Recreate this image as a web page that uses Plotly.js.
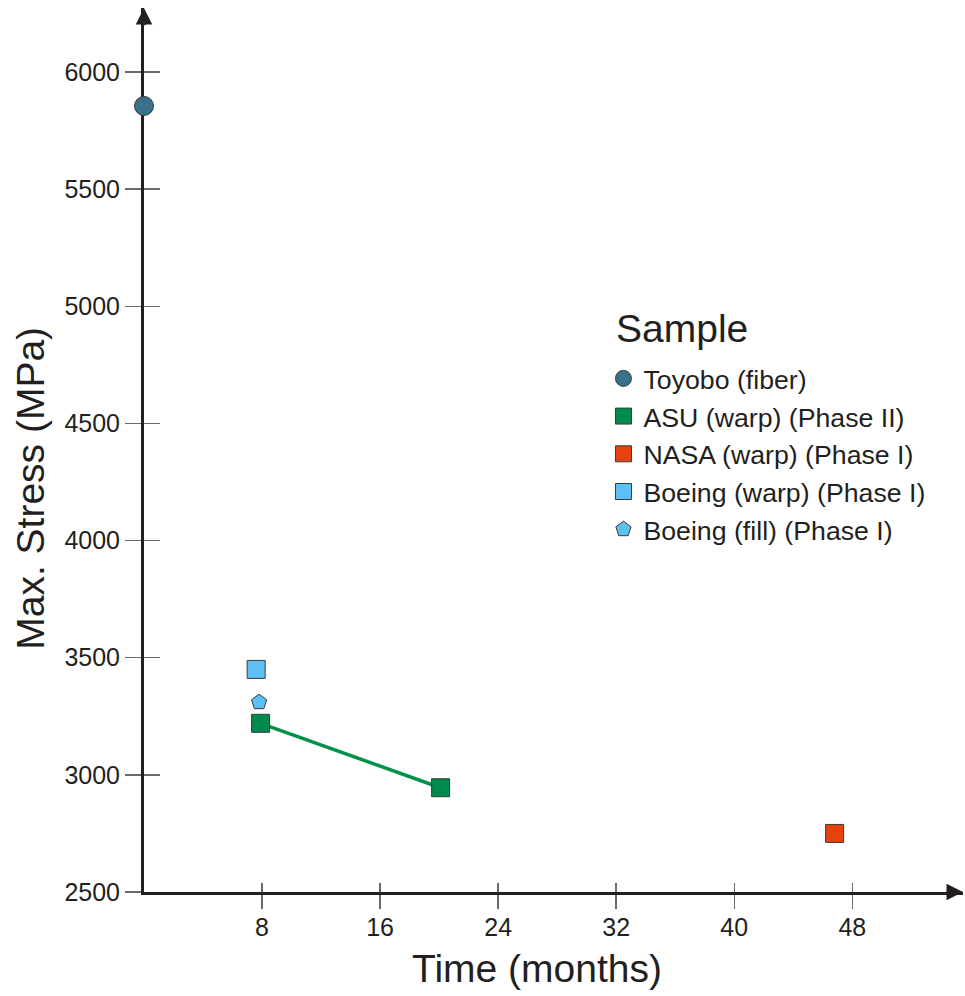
<!DOCTYPE html>
<html>
<head>
<meta charset="utf-8">
<script src="https://cdn.plot.ly/plotly-3.0.1.min.js"></script>
<style>html,body{margin:0;padding:0;background:#fff;}#chart{width:965px;height:996px;}</style>
</head>
<body>
<div id="chart"></div>
<script>
// ---- data ----
const toyoboX = [0];
const toyoboY = [5855];
const asuX = [7.9, 20.1];
const asuY = [3220, 2945];
const nasaX = [46.8];
const nasaY = [2750];
const boeingWarpX = [7.6];
const boeingWarpY = [3450];
const boeingFillX = [7.8];
const boeingFillY = [3310];

const xTicks = [8, 16, 24, 32, 40, 48];
const yTicks = [2500, 3000, 3500, 4000, 4500, 5000, 5500, 6000];
const xRange = [0, 55.5];
const yRange = [2500, 6273];

const FONT = 'Liberation Sans, Arial, sans-serif';
const INK = '#231f20';
const TICKC = '#6a6a6a';
const EDGE = '#3a3a3a';

const traces = [
  {x: asuX, y: asuY, mode: 'lines', line: {color: '#00924a', width: 3.5},
   showlegend: false, hoverinfo: 'skip', cliponaxis: false},
  {x: toyoboX, y: toyoboY, mode: 'markers', name: 'Toyobo (fiber)', legendgroup: 'a',
   marker: {symbol: 'circle', size: 19, color: '#37718b', line: {color: EDGE, width: 1}}, cliponaxis: false},
  {x: asuX, y: asuY, mode: 'markers', name: 'ASU (warp) (Phase II)', legendgroup: 'b',
   marker: {symbol: 'square', size: 18, color: '#008a4b', line: {color: EDGE, width: 1}}, cliponaxis: false},
  {x: nasaX, y: nasaY, mode: 'markers', name: 'NASA (warp) (Phase I)', legendgroup: 'c',
   marker: {symbol: 'square', size: 18, color: '#e5420d', line: {color: EDGE, width: 1}}, cliponaxis: false},
  {x: boeingWarpX, y: boeingWarpY, mode: 'markers', name: 'Boeing (warp) (Phase I)', legendgroup: 'd',
   marker: {symbol: 'square', size: 18, color: '#5dc0f2', line: {color: EDGE, width: 1}}, cliponaxis: false},
  {x: boeingFillX, y: boeingFillY, mode: 'markers', name: 'Boeing (fill) (Phase I)', legendgroup: 'e',
   marker: {symbol: 'pentagon', size: 16, color: '#5dc0f2', line: {color: EDGE, width: 1}}, cliponaxis: false},
  {x: [], y: [], xaxis: 'x2', yaxis: 'y2', showlegend: false, hoverinfo: 'skip'}
];

const layout = {
  width: 965, height: 996,
  margin: {l: 144, r: 2, t: 8, b: 104},
  paper_bgcolor: '#ffffff', plot_bgcolor: 'rgba(0,0,0,0)',
  font: {family: FONT, color: INK},
  showlegend: true,
  xaxis: {
    range: xRange, tickvals: xTicks, ticktext: xTicks.map(String),
    ticks: 'outside', ticklen: 14, tickwidth: 1.5, tickcolor: TICKC,
    tickfont: {size: 25, color: INK}, showgrid: false, zeroline: false,
    showline: true, linewidth: 3, linecolor: INK, layer: 'below traces',
    ticklabelstandoff: -3,
    fixedrange: true
  },
  yaxis: {
    range: yRange, tickvals: yTicks, ticktext: yTicks.map(String),
    ticks: 'outside', ticklen: 16, tickwidth: 1.5, tickcolor: TICKC,
    tickfont: {size: 25, color: INK}, showgrid: false, zeroline: false,
    showline: true, linewidth: 3, linecolor: INK, layer: 'below traces',
    ticklabelstandoff: 0,
    fixedrange: true
  },
  xaxis2: {
    overlaying: 'x', matches: 'x', range: xRange, tickvals: xTicks,
    ticks: 'inside', ticklen: 9, tickwidth: 1.5, tickcolor: TICKC,
    showticklabels: false, showgrid: false, zeroline: false, showline: false,
    layer: 'below traces'
  },
  yaxis2: {
    overlaying: 'y', matches: 'y', range: yRange, tickvals: yTicks,
    ticks: 'inside', ticklen: 16, tickwidth: 1.5, tickcolor: TICKC,
    showticklabels: false, showgrid: false, zeroline: false, showline: false,
    layer: 'below traces'
  },
  legend: {
    x: 0.561, y: 0.608, xanchor: 'left', yanchor: 'top',
    bgcolor: 'rgba(0,0,0,0)', borderwidth: 0,
    font: {size: 26.7, color: INK, family: FONT},
    traceorder: 'grouped', tracegroupgap: 0
  },
  annotations: [
    {x: xRange[1], y: yRange[0], xref: 'x', yref: 'y', ax: xRange[1] - 1.2, ay: yRange[0],
     axref: 'x', ayref: 'y', showarrow: true, arrowhead: 2, arrowsize: 1.1, arrowwidth: 3,
     arrowcolor: INK, text: '', standoff: 0},
    {x: xRange[0], y: yRange[1], xref: 'x', yref: 'y', ax: xRange[0], ay: yRange[1] - 80,
     axref: 'x', ayref: 'y', showarrow: true, arrowhead: 2, arrowsize: 1.1, arrowwidth: 3,
     arrowcolor: INK, text: '', standoff: 0},
    {text: 'Sample', xref: 'paper', yref: 'paper', x: 0.5739, y: 0.638,
     xanchor: 'left', yanchor: 'middle', showarrow: false,
     font: {size: 39, color: INK, family: FONT}},
    {text: 'Time (months)', xref: 'paper', yref: 'paper', x: 0.4799, y: -0.086,
     xanchor: 'center', yanchor: 'middle', showarrow: false,
     font: {size: 39, color: INK, family: FONT}},
    {text: 'Max. Stress (MPa)', xref: 'paper', yref: 'paper', x: -0.1395, y: 0.457,
     xanchor: 'center', yanchor: 'middle', textangle: -90, showarrow: false,
     font: {size: 39, color: INK, family: FONT}}
  ]
};

Plotly.newPlot('chart', traces, layout, {staticPlot: true, displayModeBar: false});
</script>
</body>
</html>
